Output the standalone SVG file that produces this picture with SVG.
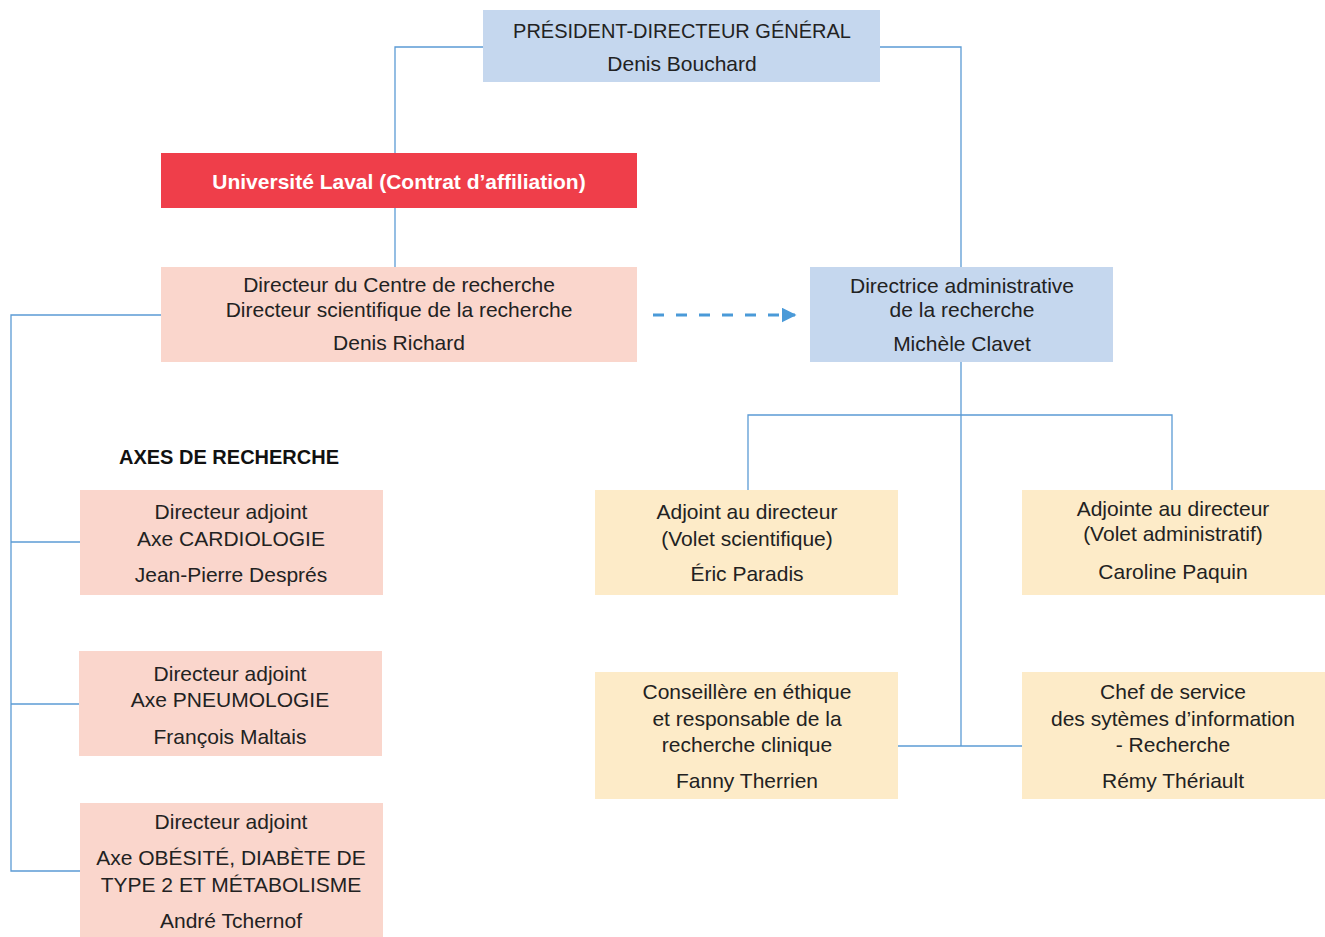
<svg xmlns="http://www.w3.org/2000/svg" width="1325" height="937" viewBox="0 0 1325 937">
<defs>
<style>
text{font-family:"Liberation Sans",Arial,sans-serif;font-size:21px;fill:#222;text-anchor:middle}
.t20{font-size:20px}
.blue{fill:#c5d7ee}
.pink{fill:#fad6cc}
.yel{fill:#fdebc8}
.red{fill:#ef3e4a}
.w{fill:#fff;font-weight:bold;font-size:21px}
.h{font-weight:bold;fill:#111;text-anchor:start;font-size:20px}
.ln{fill:none;stroke:#5b9bd5;stroke-width:1.3}
.dash{fill:none;stroke:#4a9ad8;stroke-width:3;stroke-dasharray:11 12}
</style>
<marker id="ah" viewBox="0 0 10 10" refX="9" refY="5" markerWidth="5" markerHeight="5" markerUnits="strokeWidth" orient="auto">
<path d="M0,0 L10,5 L0,10 Z" fill="#4a9ad8"/>
</marker>
</defs>
<rect width="1325" height="937" fill="#fff"/>
<g id="connectors">
<polyline class="ln" points="483,47 395,47 395,153"/>
<polyline class="ln" points="880,47 961,47 961,267"/>
<line class="ln" x1="395" y1="208" x2="395" y2="267"/>
<polyline class="ln" points="161,315 11,315 11,871 80,871"/>
<line class="ln" x1="11" y1="542" x2="80" y2="542"/>
<line class="ln" x1="11" y1="704" x2="79" y2="704"/>
<line class="ln" x1="961" y1="362" x2="961" y2="746"/>
<polyline class="ln" points="748,490 748,415 1172,415 1172,490"/>
<line class="ln" x1="898" y1="746" x2="1022" y2="746"/>
<line class="dash" x1="653" y1="315" x2="795" y2="315" marker-end="url(#ah)"/>
</g>
<g id="pdg">
<rect class="blue" x="483" y="10" width="397" height="72"/>
<text class="t20" x="682" y="38">PRÉSIDENT-DIRECTEUR GÉNÉRAL</text>
<text x="682" y="71">Denis Bouchard</text>
</g>
<g id="laval">
<rect class="red" x="161" y="153" width="476" height="55"/>
<text class="w" x="399" y="189">Université Laval (Contrat d’affiliation)</text>
</g>
<g id="directeur">
<rect class="pink" x="161" y="267" width="476" height="95"/>
<text x="399" y="292">Directeur du Centre de recherche</text>
<text x="399" y="317">Directeur scientifique de la recherche</text>
<text x="399" y="350">Denis Richard</text>
</g>
<g id="directrice">
<rect class="blue" x="810" y="267" width="303" height="95"/>
<text x="962" y="293">Directrice administrative</text>
<text x="962" y="317">de la recherche</text>
<text x="962" y="351">Michèle Clavet</text>
</g>
<g id="axes-title">
<text class="h" x="119" y="464">AXES DE RECHERCHE</text>
</g>
<g id="cardio">
<rect class="pink" x="80" y="490" width="303" height="105"/>
<text x="231" y="519">Directeur adjoint</text>
<text x="231" y="546">Axe CARDIOLOGIE</text>
<text x="231" y="582">Jean-Pierre Després</text>
</g>
<g id="pneumo">
<rect class="pink" x="79" y="651" width="303" height="105"/>
<text x="230" y="681">Directeur adjoint</text>
<text x="230" y="707">Axe PNEUMOLOGIE</text>
<text x="230" y="744">François Maltais</text>
</g>
<g id="obesite">
<rect class="pink" x="80" y="803" width="303" height="134"/>
<text x="231" y="829">Directeur adjoint</text>
<text x="231" y="865">Axe OBÉSITÉ, DIABÈTE DE</text>
<text x="231" y="892">TYPE 2 ET MÉTABOLISME</text>
<text x="231" y="928">André Tchernof</text>
</g>
<g id="adjoint-sci">
<rect class="yel" x="595" y="490" width="303" height="105"/>
<text x="747" y="519">Adjoint au directeur</text>
<text x="747" y="546">(Volet scientifique)</text>
<text x="747" y="581">Éric Paradis</text>
</g>
<g id="adjointe-adm">
<rect class="yel" x="1022" y="490" width="303" height="105"/>
<text x="1173" y="516">Adjointe au directeur</text>
<text x="1173" y="541">(Volet administratif)</text>
<text x="1173" y="579">Caroline Paquin</text>
</g>
<g id="conseillere">
<rect class="yel" x="595" y="672" width="303" height="127"/>
<text x="747" y="699">Conseillère en éthique</text>
<text x="747" y="726">et responsable de la</text>
<text x="747" y="752">recherche clinique</text>
<text x="747" y="788">Fanny Therrien</text>
</g>
<g id="chef">
<rect class="yel" x="1022" y="672" width="303" height="127"/>
<text x="1173" y="699">Chef de service</text>
<text x="1173" y="726">des sytèmes d’information</text>
<text x="1173" y="752">- Recherche</text>
<text x="1173" y="788">Rémy Thériault</text>
</g>
</svg>
